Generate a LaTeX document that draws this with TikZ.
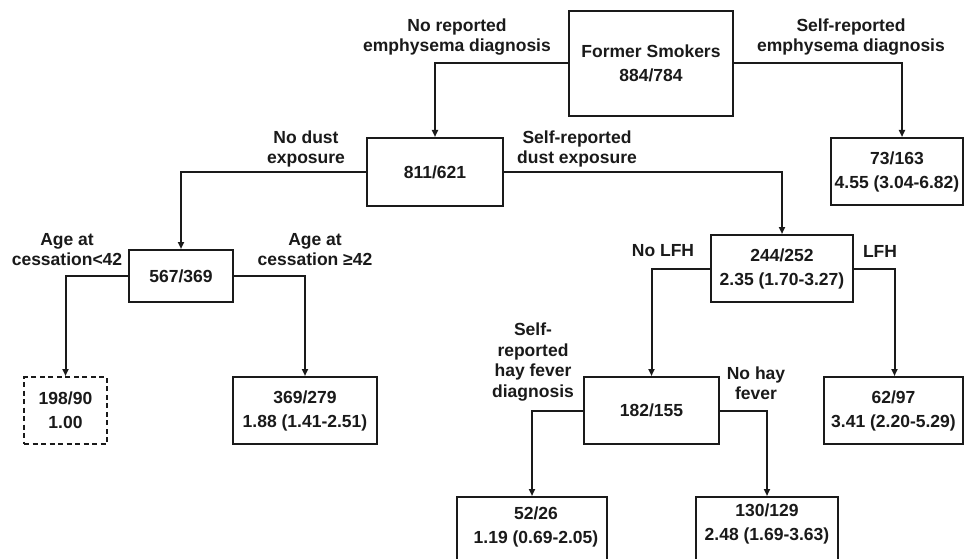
\documentclass[tikz,border=0pt]{standalone}
\usepackage{fontspec}
\setmainfont{Liberation Sans}
\usetikzlibrary{arrows.meta}
\definecolor{ink}{HTML}{1A1A1A}
\begin{document}
\begin{tikzpicture}[x=1pt,y=-1pt,
  box/.style={draw=ink, line width=2pt, align=center, text=ink,
    font=\bfseries\fontsize{17.5}{24}\selectfont, inner sep=0pt},
  boxtext/.style={align=center, text=ink,
    font=\bfseries\fontsize{17.5}{24}\selectfont, inner sep=0pt},
  lab/.style={align=center, text=ink,
    font=\bfseries\fontsize{17.5}{20.5}\selectfont, inner sep=0pt},
  conn/.style={draw=ink, line width=2pt, -{Triangle[length=7pt,width=6pt]}}]
\useasboundingbox (0,0) rectangle (964,559);
\clip (0,0) rectangle (964,559);
\fill[white] (0,0) rectangle (964,559);

% boxes
\node[box, minimum width=164pt, minimum height=105pt] (fs) at (651,63.5) {Former Smokers\\884/784};
\node[box, minimum width=136pt, minimum height=68pt] (n811) at (435,172) {811/621};
\node[box, minimum width=132pt, minimum height=67pt] (n73) at (897,171.5) {73/163\\4.55 (3.04-6.82)};
\node[box, minimum width=104pt, minimum height=52pt] (n567) at (181,276) {567/369};
\node[box, minimum width=142pt, minimum height=67pt] (n244) at (782,268.5) {244/252\\2.35 (1.70-3.27)};
\node[box, dash pattern=on 5pt off 3.5pt, minimum width=83pt, minimum height=67pt] (n198) at (65.5,410.5) {198/90\\1.00};
\node[box, minimum width=144pt, minimum height=67pt] (n369) at (305,410.5) {369/279\\1.88 (1.41-2.51)};
\node[box, minimum width=135pt, minimum height=67pt] (n182) at (651.5,410.5) {182/155};
\node[box, minimum width=139pt, minimum height=67pt] (n62) at (893.5,410.5) {62/97\\3.41 (2.20-5.29)};
\node[box, minimum width=150pt, minimum height=80pt, anchor=north] (n52) at (532,496) {};
\node[boxtext] (t52) at (536,527) {52/26\\1.19 (0.69-2.05)};
\node[box, minimum width=142pt, minimum height=80pt, anchor=north] (n130) at (767,496) {};
\node[boxtext] (t130) at (767,523.5) {130/129\\2.48 (1.69-3.63)};

% connectors
\draw[conn] (fs.west) -| (n811.north);
\draw[conn] (fs.east) -| ([xshift=5pt]n73.north);
\draw[conn] (n811.west) -| (n567.north);
\draw[conn] (n811.east) -| (n244.north);
\draw[conn] (n567.west) -| (n198.north);
\draw[conn] (n567.east) -| (n369.north);
\draw[conn] (n244.west) -| (n182.north);
\draw[conn] (n244.east) -| ([xshift=1pt]n62.north);
\draw[conn] (n182.west) -| (n52.north);
\draw[conn] (n182.east) -| (n130.north);

% labels
\node[lab] (l1) at (457,37) {No reported\\emphysema diagnosis};
\node[lab] (l2) at (851,37) {Self-reported\\emphysema diagnosis};
\node[lab] (l3) at (306,149) {No dust\\exposure};
\node[lab] (l4) at (577,149) {Self-reported\\dust exposure};
\node[lab] (l5) at (67,249.5) {Age at\\cessation<42};
\node[lab] (l6) at (315,249.5) {Age at\\cessation ≥42};
\node[lab] (l7) at (663,251) {No LFH};
\node[lab] (l8) at (880,251) {LFH};
\node[lab] (l9) at (533,362) {Self-\\reported\\hay fever\\diagnosis};
\node[lab] (l10) at (756,383) {No hay\\fever};
\end{tikzpicture}
\end{document}
